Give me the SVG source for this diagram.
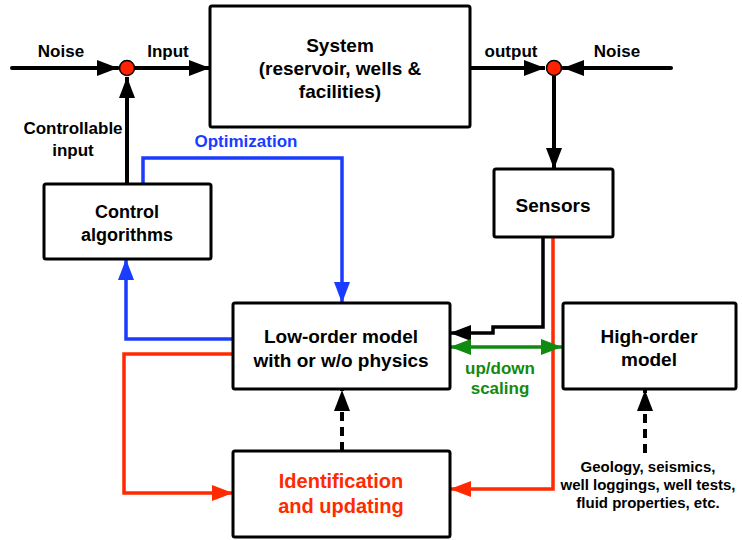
<svg xmlns="http://www.w3.org/2000/svg" width="742" height="540" viewBox="0 0 742 540">
<style>
.box{fill:#fff;stroke:#000;stroke-width:3}
text{font-family:"Liberation Sans",Arial,Helvetica,sans-serif;font-weight:bold;text-anchor:middle}
.t{font-size:19px;fill:#000}
.s{font-size:17px;fill:#000}
.f{font-size:15px;fill:#000}
.k{fill:none;stroke:#000;stroke-width:4}
.b{fill:none;stroke:#1a3cff;stroke-width:3.5}
.r{fill:none;stroke:#ff2a00;stroke-width:3.5}
.g{fill:none;stroke:#118a11;stroke-width:3.5}
.d{fill:none;stroke:#000;stroke-width:4;stroke-dasharray:9,6}
.dot{fill:#ff2200;stroke:#000;stroke-width:1.5}
</style>
<defs>
<marker id="ak" markerUnits="userSpaceOnUse" markerWidth="22" markerHeight="16" refX="21" refY="8" orient="auto"><path d="M0,0 L21,8 L0,16 z" fill="#000"/></marker>
<marker id="ab" markerUnits="userSpaceOnUse" markerWidth="22" markerHeight="16" refX="21" refY="8" orient="auto"><path d="M0,0 L21,8 L0,16 z" fill="#1a3cff"/></marker>
<marker id="ar" markerUnits="userSpaceOnUse" markerWidth="22" markerHeight="16" refX="21" refY="8" orient="auto"><path d="M0,0 L21,8 L0,16 z" fill="#ff2a00"/></marker>
<marker id="ag" markerUnits="userSpaceOnUse" markerWidth="22" markerHeight="16" refX="21" refY="8" orient="auto-start-reverse"><path d="M0,0 L21,8 L0,16 z" fill="#118a11"/></marker>
</defs>

<g id="connectors">
<path class="k" style="stroke-linecap:round" d="M12,68 H118" marker-end="url(#ak)"/>
<path class="k" d="M135,68 H210" marker-end="url(#ak)"/>
<path class="k" d="M127,184 V77" marker-end="url(#ak)"/>
<path class="k" d="M470,68 H545" marker-end="url(#ak)"/>
<path class="k" style="stroke-linecap:round" d="M671,68 H563" marker-end="url(#ak)"/>
<path class="k" d="M554,76 V169" marker-end="url(#ak)"/>
<path class="b" d="M143,184 V158 H342 V303" marker-end="url(#ab)"/>
<path class="b" d="M233,339 H126 V259" marker-end="url(#ab)"/>
<path class="r" d="M233,354 H124 V493 H233" marker-end="url(#ar)"/>
<path class="r" d="M553,237 V489 H450" marker-end="url(#ar)"/>
<path class="k" style="stroke-width:3.5" d="M543,237 V327 H493 V333 H450" marker-end="url(#ak)"/>
<path class="g" d="M450,347 H562" marker-start="url(#ag)" marker-end="url(#ag)"/>
<path class="d" d="M342,451 V390" marker-end="url(#ak)"/>
<path class="d" d="M645,453 V390" marker-end="url(#ak)"/>
<circle class="dot" cx="127" cy="68" r="7.5"/>
<circle class="dot" cx="554" cy="68" r="7.5"/>
</g>

<g id="labels">
<text class="s" x="61" y="57">Noise</text>
<text class="s" x="168" y="57">Input</text>
<text class="s" x="511" y="57">output</text>
<text class="s" x="617" y="57">Noise</text>
<text class="s" x="73" y="134">Controllable</text>
<text class="s" x="73" y="156">input</text>
<text class="s" x="246" y="147" style="fill:#1a3cff">Optimization</text>
<text class="s" x="500" y="374" style="fill:#118a11">up/down</text>
<text class="s" x="500" y="394" style="fill:#118a11">scaling</text>
<text class="f" x="648" y="472">Geology, seismics,</text>
<text class="f" x="648" y="490">well loggings, well tests,</text>
<text class="f" x="648" y="508">fluid properties, etc.</text>
</g>

<g id="system">
<rect class="box" x="210" y="6" width="260" height="121" rx="2"/>
<text class="t" x="340" y="52">System</text>
<text class="t" x="340" y="75">(reservoir, wells &amp;</text>
<text class="t" x="340" y="98">facilities)</text>
</g>

<g id="control">
<rect class="box" x="44" y="184" width="167" height="75" rx="2"/>
<text class="t" style="font-size:18px" x="127" y="218">Control</text>
<text class="t" style="font-size:18px" x="127" y="241">algorithms</text>
</g>

<g id="sensors">
<rect class="box" x="494" y="169" width="119" height="68" rx="2"/>
<text class="t" x="553" y="212">Sensors</text>
</g>

<g id="loworder">
<rect class="box" x="233" y="303" width="217" height="86" rx="2"/>
<text class="t" x="341" y="343">Low-order model</text>
<text class="t" x="341" y="367">with or w/o physics</text>
</g>

<g id="highorder">
<rect class="box" x="563" y="303" width="173" height="86" rx="2"/>
<text class="t" x="649" y="343">High-order</text>
<text class="t" x="649" y="366">model</text>
</g>

<g id="identification">
<rect class="box" x="233" y="451" width="217" height="86" rx="2"/>
<text class="t" style="font-size:20px;fill:#ff2a00" x="341" y="488">Identification</text>
<text class="t" style="font-size:20px;fill:#ff2a00" x="341" y="513">and updating</text>
</g>
</svg>
